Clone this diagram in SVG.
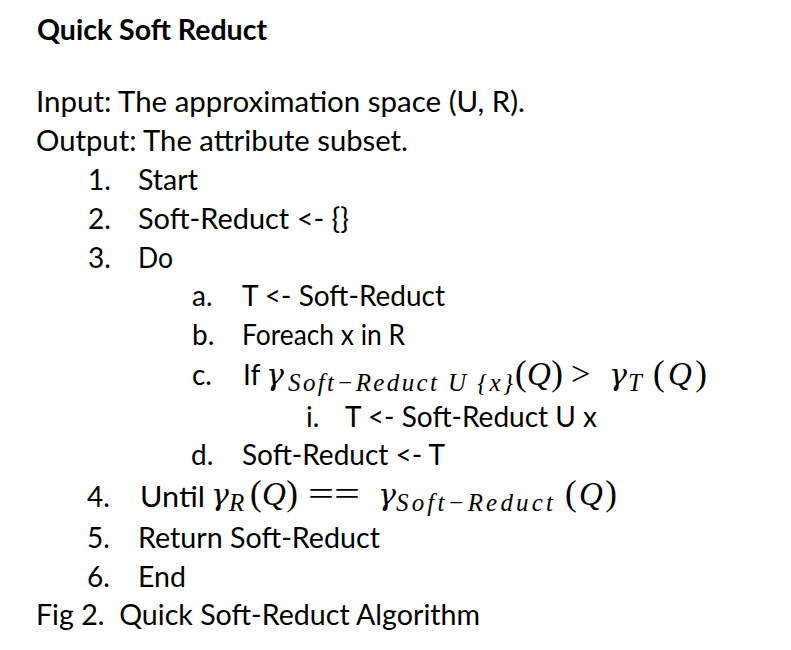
<svg xmlns="http://www.w3.org/2000/svg" width="791" height="650" viewBox="0 0 791 650">
<style>
.t{font-family:Lato,"Open Sans",sans-serif;font-size:28px;fill:#000}
.b{font-weight:bold}
.m{font-family:"Liberation Serif","DejaVu Serif",serif;font-style:italic;font-size:33px;fill:#000}
.g{font-family:"DejaVu Serif","Liberation Serif",serif;font-style:italic;font-size:30px;fill:#000}
.s{font-family:"Liberation Serif","DejaVu Serif",serif;font-style:italic;font-size:25px;fill:#000}
.p{font-family:"Liberation Serif","DejaVu Serif",serif;font-style:normal;font-size:35px}
.u{font-family:"Liberation Serif","DejaVu Serif",serif;font-style:normal;font-size:34px;fill:#000}
</style>
<rect x="0" y="0" width="791" height="650" fill="#fff"/>
<g id="title"><text class="t b" x="37" y="40" textLength="230" lengthAdjust="spacingAndGlyphs">Quick Soft Reduct</text></g>
<g id="io">
<text class="t" x="36" y="112" textLength="489" lengthAdjust="spacingAndGlyphs">Input: The approximation space (U, R).</text>
<text class="t" x="36" y="151" textLength="372" lengthAdjust="spacingAndGlyphs">Output: The attribute subset.</text>
</g>
<g id="step1"><text class="t" x="88" y="190">1.</text><text class="t" x="138" y="190" textLength="60" lengthAdjust="spacingAndGlyphs">Start</text></g>
<g id="step2"><text class="t" x="88" y="229">2.</text><text class="t" x="138" y="229" textLength="211" lengthAdjust="spacingAndGlyphs">Soft-Reduct &lt;- {}</text></g>
<g id="step3"><text class="t" x="88" y="268">3.</text><text class="t" x="138" y="268" textLength="35" lengthAdjust="spacingAndGlyphs">Do</text></g>
<g id="step3a"><text class="t" x="192" y="306">a.</text><text class="t" x="242" y="306" textLength="203" lengthAdjust="spacingAndGlyphs">T &lt;- Soft-Reduct</text></g>
<g id="step3b"><text class="t" x="192" y="345">b.</text><text class="t" x="242" y="345" textLength="163" lengthAdjust="spacingAndGlyphs">Foreach x in R</text></g>
<g id="step3c">
<text class="t" x="192" y="385">c.</text>
<text class="t" x="243" y="385">If</text>
<text class="g" x="266" y="385">γ</text>
<text class="s" x="288" y="391" textLength="225" lengthAdjust="spacing">Soft−Reduct U {x}</text>
<text class="m" x="515" y="385" textLength="48" lengthAdjust="spacing"><tspan class="p">(</tspan>Q<tspan class="p">)</tspan></text>
<text class="u" x="571" y="385">&gt;</text>
<text class="g" x="609" y="385">γ</text>
<text class="s" x="628" y="391">T</text>
<text class="m" x="653" y="385" textLength="54" lengthAdjust="spacing"><tspan class="p">(</tspan>Q<tspan class="p">)</tspan></text>
</g>
<g id="step3ci"><text class="t" x="306" y="427">i.</text><text class="t" x="345" y="427" textLength="252" lengthAdjust="spacingAndGlyphs">T &lt;- Soft-Reduct U x</text></g>
<g id="step3d"><text class="t" x="191" y="465">d.</text><text class="t" x="242" y="465" textLength="203" lengthAdjust="spacingAndGlyphs">Soft-Reduct &lt;- T</text></g>
<g id="step4">
<text class="t" x="87" y="507">4.</text>
<text class="t" x="140" y="507" textLength="65" lengthAdjust="spacingAndGlyphs">Until</text>
<text class="g" x="211" y="505">γ</text>
<text class="s" x="229" y="511">R</text>
<text class="m" x="250" y="505" textLength="48" lengthAdjust="spacing"><tspan class="p">(</tspan>Q<tspan class="p">)</tspan></text>
<text class="u" x="308" y="505" textLength="52" lengthAdjust="spacingAndGlyphs">==</text>
<text class="g" x="378" y="505">γ</text>
<text class="s" x="396" y="511" textLength="157" lengthAdjust="spacing">Soft−Reduct</text>
<text class="m" x="565" y="505" textLength="52" lengthAdjust="spacing"><tspan class="p">(</tspan>Q<tspan class="p">)</tspan></text>
</g>
<g id="step5"><text class="t" x="87" y="548">5.</text><text class="t" x="138" y="548" textLength="242" lengthAdjust="spacingAndGlyphs">Return Soft-Reduct</text></g>
<g id="step6"><text class="t" x="87" y="587">6.</text><text class="t" x="138" y="587" textLength="48" lengthAdjust="spacingAndGlyphs">End</text></g>
<g id="caption"><text class="t" x="36" y="625" textLength="444" lengthAdjust="spacingAndGlyphs" xml:space="preserve">Fig 2.  Quick Soft-Reduct Algorithm</text></g>
</svg>
